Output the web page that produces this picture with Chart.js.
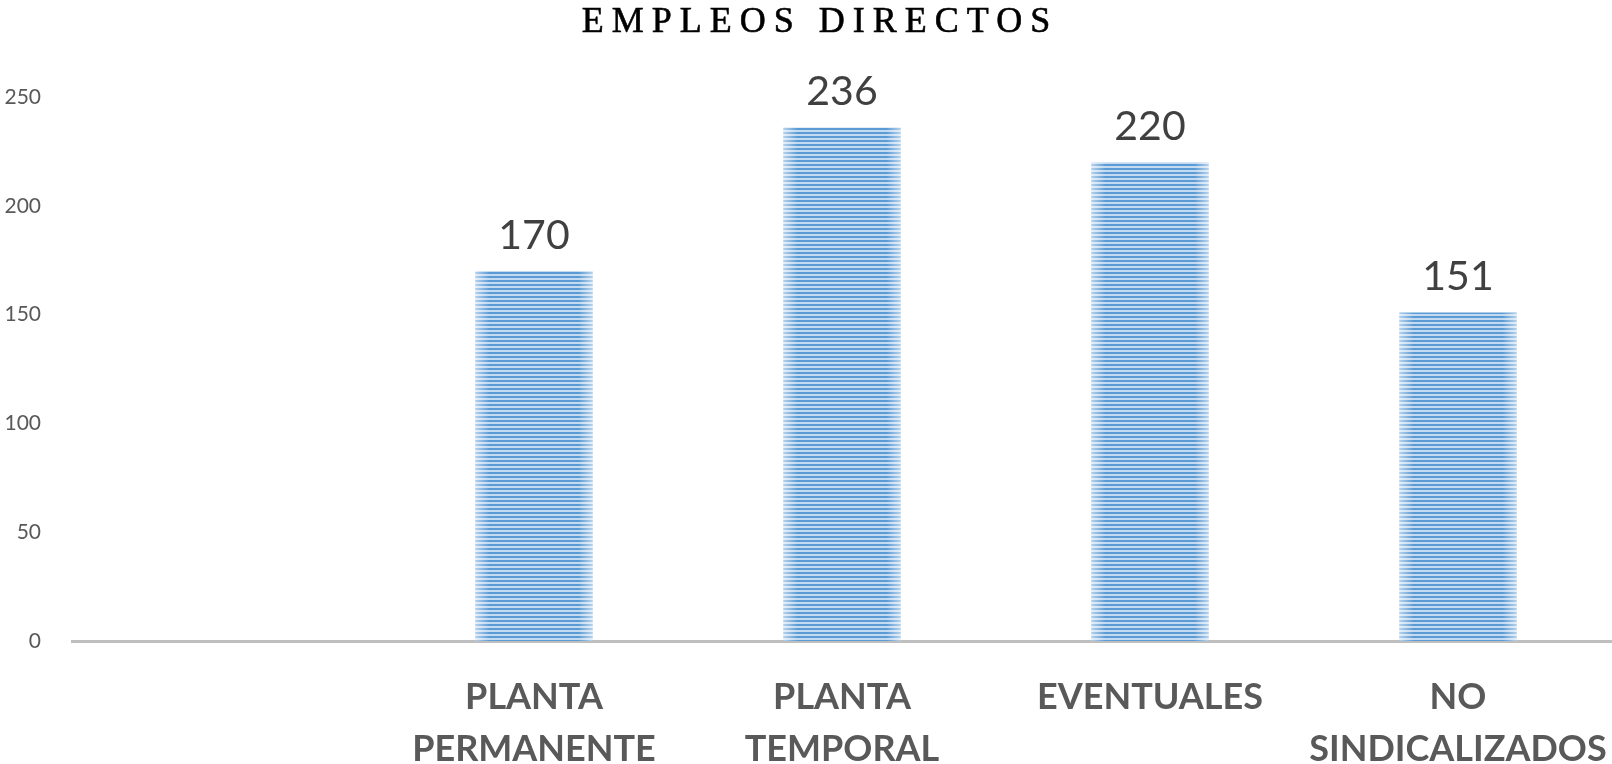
<!DOCTYPE html>
<html lang="es">
<head>
<meta charset="utf-8">
<title>Empleos directos</title>
<script src="https://cdn.jsdelivr.net/npm/chart.js"></script>
<style>
    html, body { margin: 0; padding: 0; background: #ffffff; }
    #chartCanvas { display: block; }
</style>
</head>
<body>
<canvas id="chartCanvas" width="1612" height="764"></canvas>
<script>
// Chart data
const chartTitle = 'EMPLEOS DIRECTOS';
const categories = ['', ['PLANTA', 'PERMANENTE'], ['PLANTA', 'TEMPORAL'], 'EVENTUALES', ['NO', 'SINDICALIZADOS']];
const empleos = [null, 170, 236, 220, 151];
const yTicks = [0, 50, 100, 150, 200, 250];

// Striped fill like the original bars
function makeStripePattern(ctx) {
    const tile = document.createElement('canvas');
    tile.width = 4;
    tile.height = 4;
    const t = tile.getContext('2d');
    t.fillStyle = '#c3daf0';
    t.fillRect(0, 0, 4, 4);
    t.fillStyle = '#5b9bd5';
    t.fillRect(0, 0, 4, 2);
    return ctx.createPattern(tile, 'repeat');
}

// Title drawn by hand so it can have letter spacing
const titlePlugin = {
    id: 'spacedTitle',
    afterDraw(chart) {
        const ctx = chart.ctx;
        const spacing = 8;
        ctx.save();
        ctx.font = '36px "Liberation Serif", "DejaVu Serif", serif';
        ctx.letterSpacing = spacing + 'px';
        ctx.fillStyle = '#000000';
        ctx.strokeStyle = '#000000';
        ctx.lineWidth = 0.6;
        ctx.textBaseline = 'alphabetic';
        ctx.textAlign = 'left';
        const w = ctx.measureText(chartTitle).width - spacing;
        const x = 816 - w / 2;
        ctx.fillText(chartTitle, x, 32);
        ctx.strokeText(chartTitle, x, 32);
        ctx.restore();
    }
};

// Value labels above bars, plus soft light edges on the bars
const barLabelsPlugin = {
    id: 'barLabels',
    afterDatasetsDraw(chart) {
        const ctx = chart.ctx;
        const meta = chart.getDatasetMeta(0);
        ctx.save();
        meta.data.forEach((bar, i) => {
            const value = chart.data.datasets[0].data[i];
            if (value === null) return;
            const left = bar.x - bar.width / 2;
            const right = bar.x + bar.width / 2;
            // edge highlight
            const grad = ctx.createLinearGradient(left, 0, right, 0);
            grad.addColorStop(0, 'rgba(255,255,255,0.55)');
            grad.addColorStop(0.12, 'rgba(255,255,255,0)');
            grad.addColorStop(0.88, 'rgba(255,255,255,0)');
            grad.addColorStop(1, 'rgba(255,255,255,0.55)');
            ctx.fillStyle = grad;
            ctx.fillRect(left, bar.y, bar.width, bar.base - bar.y);
            // value text
            ctx.font = '41px Lato, "Open Sans", sans-serif';
            ctx.fillStyle = '#404040';
            ctx.textAlign = 'center';
            ctx.textBaseline = 'alphabetic';
            ctx.fillText(String(value), bar.x, bar.y - 22);
        });
        ctx.restore();
    }
};

const canvas = document.getElementById('chartCanvas');
const ctx = canvas.getContext('2d');

const chart = new Chart(ctx, {
    type: 'bar',
    data: {
        labels: categories,
        datasets: [{
            label: chartTitle,
            data: empleos,
            backgroundColor: makeStripePattern(ctx),
            borderWidth: 0,
            barPercentage: 0.38,
            categoryPercentage: 1.0
        }]
    },
    options: {
        responsive: false,
        animation: false,
        devicePixelRatio: 1,
        layout: {
            padding: { top: 97, left: 0, right: 0, bottom: 0 }
        },
        plugins: {
            legend: { display: false },
            title: { display: false },
            tooltip: { enabled: false }
        },
        scales: {
            x: {
                grid: { display: false },
                border: { display: true, color: '#bfbfbf', width: 3 },
                ticks: {
                    color: '#595959',
                    font: { family: 'Lato, "Open Sans", sans-serif', size: 36, weight: 'bold', lineHeight: 1.45 },
                    padding: 22,
                    autoSkip: false,
                    maxRotation: 0,
                    minRotation: 0
                },
                afterFit(scale) {
                    scale.height = 123;
                    scale.paddingLeft = 0;
                    scale.paddingRight = 0;
                }
            },
            y: {
                min: 0,
                max: 250,
                grid: { display: false },
                border: { display: false },
                afterBuildTicks(scale) {
                    scale.ticks = yTicks.map(v => ({ value: v }));
                },
                ticks: {
                    color: '#595959',
                    font: { family: 'Lato, "Open Sans", sans-serif', size: 21 },
                    padding: 23
                },
                afterFit(scale) {
                    scale.width = 72;
                }
            }
        }
    },
    plugins: [titlePlugin, barLabelsPlugin]
});
</script>
</body>
</html>
